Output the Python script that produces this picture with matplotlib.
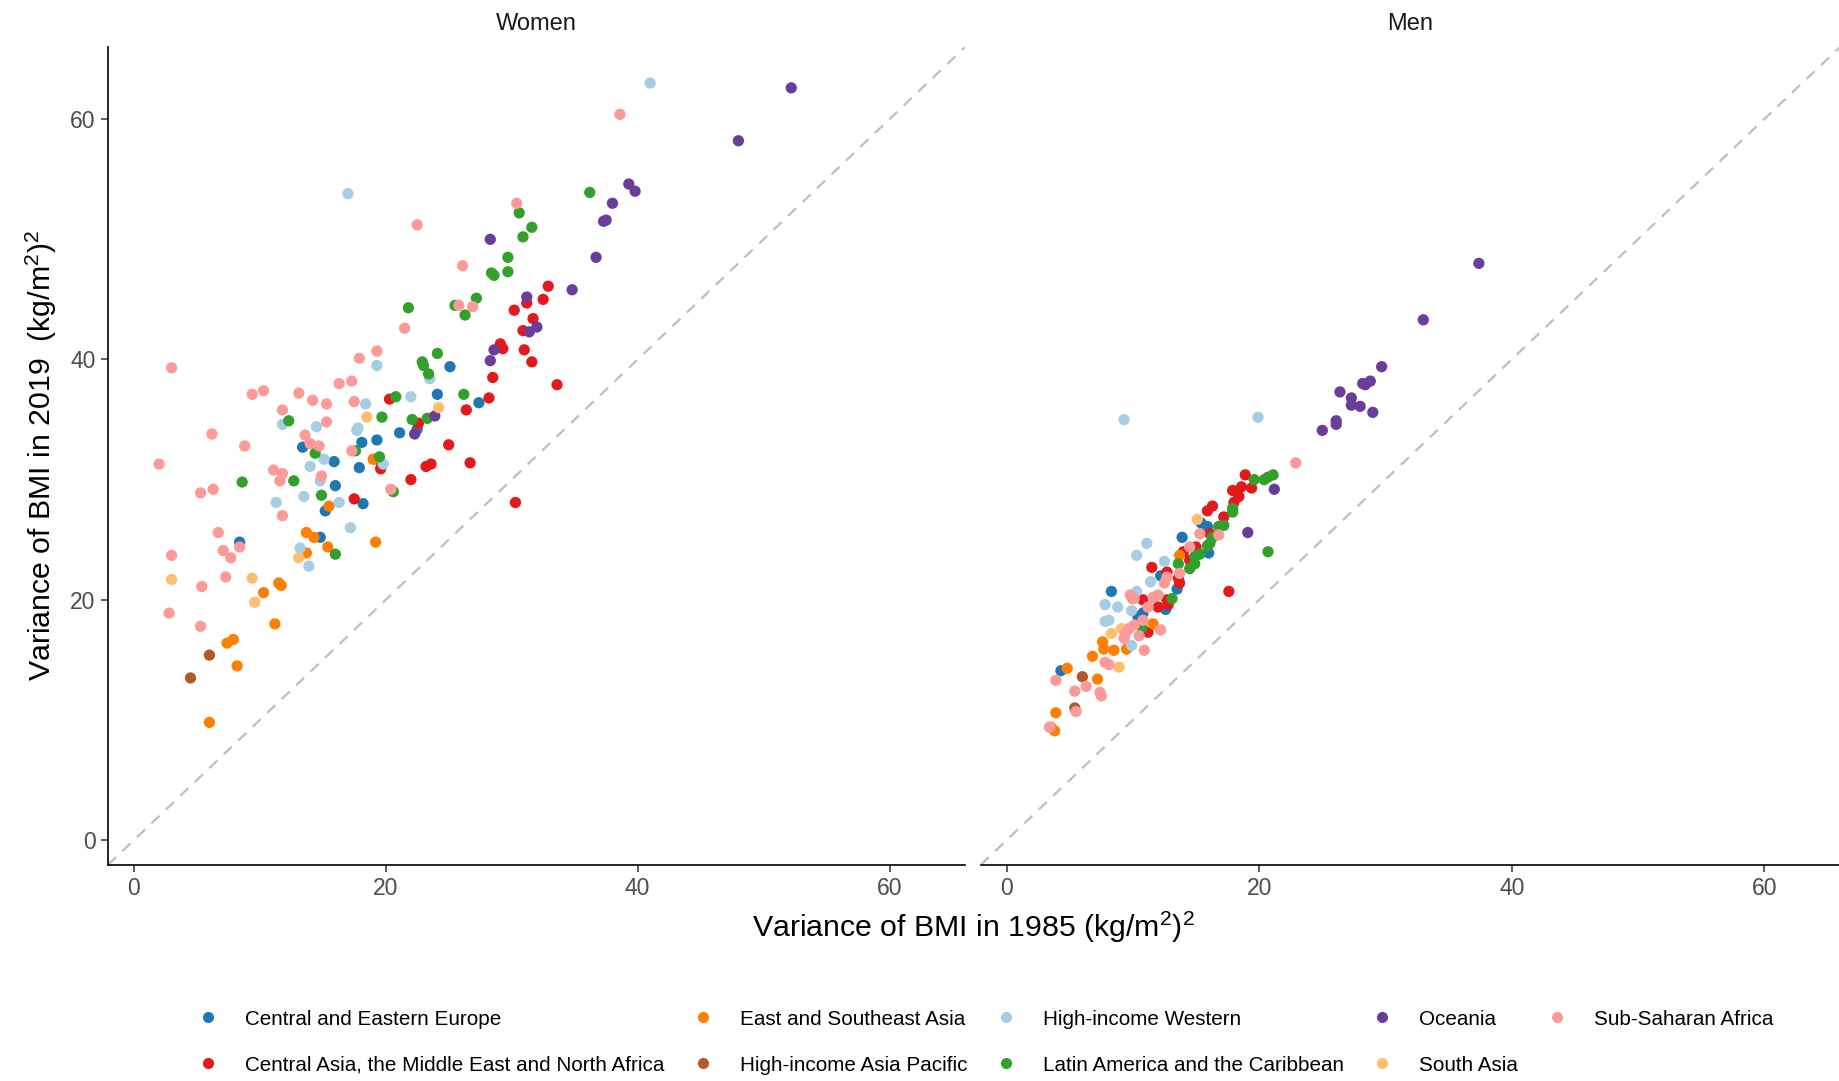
import matplotlib
matplotlib.use("Agg")
import matplotlib.pyplot as plt
from matplotlib.lines import Line2D

plt.rcParams['font.family'] = ['Liberation Sans', 'DejaVu Sans']
plt.rcParams['mathtext.fontset'] = 'custom'
plt.rcParams['mathtext.rm'] = 'Liberation Sans'
plt.rcParams['mathtext.it'] = 'Liberation Sans:italic'

# regions (legend order) and Paired-palette colours
regions = ['Central and Eastern Europe', 'Central Asia, the Middle East and North Africa',
           'East and Southeast Asia', 'High-income Asia Pacific', 'High-income Western',
           'Latin America and the Caribbean', 'Oceania', 'South Asia', 'Sub-Saharan Africa']
colors = ['#1F78B4', '#E31A1C', '#FF7F00', '#B15928', '#A6CEE3',
          '#33A02C', '#6A3D9A', '#FDBF6F', '#FB9A99']

# Women: (variance 1985, variance 2019)
w_cee = [(25.1, 39.4), (24.1, 37.1), (27.4, 36.4), (21.1, 33.9), (18.1, 33.1), (19.3, 33.3),
         (13.4, 32.7), (15.9, 31.5), (17.9, 31.0), (16.0, 29.5), (15.2, 27.4), (18.2, 28.0),
         (14.8, 25.2), (8.4, 24.8), (22.5, 34.2)]
w_cam = [(32.9, 46.1), (32.5, 45.0), (31.2, 44.7), (30.2, 44.1), (31.7, 43.4), (30.9, 42.4),
         (29.1, 41.3), (29.3, 40.9), (31.0, 40.8), (31.6, 39.8), (28.5, 38.5), (33.6, 37.9),
         (28.2, 36.8), (26.4, 35.8), (26.7, 31.4), (30.3, 28.1), (25.0, 32.9), (20.3, 36.7),
         (22.6, 34.7), (19.3, 31.7), (19.6, 30.9), (23.2, 31.1), (23.6, 31.3), (22.0, 30.0),
         (17.5, 28.4)]
w_esa = [(19.0, 31.7), (15.5, 27.8), (13.7, 25.6), (14.3, 25.2), (15.4, 24.4), (19.2, 24.8),
         (13.7, 23.9), (11.5, 21.4), (11.7, 21.2), (10.3, 20.6), (11.2, 18.0), (7.4, 16.4),
         (7.9, 16.7), (8.2, 14.5), (6.0, 9.8)]
w_hap = [(6.0, 15.4), (4.5, 13.5)]
w_hiw = [(41.0, 63.0), (17.0, 53.8), (19.3, 39.5), (23.5, 38.4), (18.4, 36.3), (22.0, 36.9),
         (11.8, 34.6), (14.5, 34.4), (17.8, 34.3), (17.7, 34.1), (15.1, 31.7), (19.8, 31.3),
         (14.0, 31.1), (14.8, 29.9), (11.3, 28.1), (13.5, 28.6), (16.3, 28.1), (17.2, 26.0),
         (13.2, 24.3), (13.9, 22.8)]
w_lac = [(36.2, 53.9), (30.6, 52.2), (31.6, 51.0), (30.9, 50.2), (29.7, 48.5), (28.4, 47.2),
         (28.6, 47.0), (29.7, 47.3), (27.2, 45.1), (25.5, 44.5), (26.3, 43.7), (26.2, 37.1),
         (21.8, 44.3), (22.9, 39.8), (23.0, 39.5), (24.1, 40.5), (23.4, 38.8), (20.8, 36.9),
         (12.3, 34.9), (19.7, 35.2), (22.1, 35.0), (23.3, 35.1), (14.4, 32.2), (17.6, 32.4),
         (19.5, 31.9), (12.7, 29.9), (8.6, 29.8), (20.6, 29.0), (14.9, 28.7), (16.0, 23.8)]
w_oce = [(52.2, 62.6), (48.0, 58.2), (39.3, 54.6), (39.8, 54.0), (38.0, 53.0), (37.3, 51.5),
         (37.5, 51.6), (28.3, 50.0), (36.7, 48.5), (34.8, 45.8), (31.2, 45.2), (31.4, 42.3),
         (32.0, 42.7), (28.6, 40.8), (28.3, 39.9), (22.3, 33.8), (23.9, 35.3)]
w_sas = [(24.2, 36.0), (18.5, 35.2), (13.1, 23.5), (3.0, 21.7), (9.4, 21.8), (9.6, 19.8)]
w_ssa = [(38.6, 60.4), (30.4, 53.0), (22.5, 51.2), (26.1, 47.8), (25.8, 44.5), (26.9, 44.4),
         (21.5, 42.6), (19.3, 40.7), (17.9, 40.1), (3.0, 39.3), (16.3, 38.0), (17.3, 38.2),
         (9.4, 37.1), (10.3, 37.4), (13.1, 37.2), (14.2, 36.6), (15.3, 36.3), (17.5, 36.5),
         (11.8, 35.8), (15.3, 34.8), (6.2, 33.8), (8.8, 32.8), (13.6, 33.7), (14.0, 33.0),
         (14.7, 32.8), (17.3, 32.4), (2.0, 31.3), (11.1, 30.8), (11.8, 30.5), (11.6, 29.9),
         (14.9, 30.3), (5.3, 28.9), (6.3, 29.2), (20.4, 29.2), (11.8, 27.0), (6.7, 25.6),
         (8.4, 24.4), (7.1, 24.1), (7.7, 23.5), (3.0, 23.7), (7.3, 21.9), (5.4, 21.1),
         (2.8, 18.9), (5.3, 17.8)]

# Men
m_cee = [(15.4, 26.4), (15.9, 26.1), (13.9, 25.2), (16.0, 23.9), (12.2, 22.0), (13.5, 20.9),
         (8.3, 20.7), (12.6, 19.2), (10.4, 18.6), (10.8, 18.9), (4.3, 14.1)]
m_cam = [(18.9, 30.4), (18.6, 29.4), (19.4, 29.3), (17.9, 29.1), (18.4, 28.6), (18.0, 28.1),
         (16.3, 27.8), (15.9, 27.4), (17.2, 26.9), (16.1, 25.5), (15.0, 24.4), (14.0, 24.0),
         (14.5, 23.3), (11.5, 22.7), (12.7, 22.3), (13.6, 21.8), (13.7, 21.4), (10.8, 20.0),
         (12.7, 20.0), (12.8, 19.6), (12.0, 19.4), (17.6, 20.7), (11.2, 17.3)]
m_esa = [(13.7, 23.7), (10.0, 20.1), (11.6, 18.0), (7.6, 16.5), (7.7, 15.9), (8.5, 15.8),
         (6.8, 15.3), (9.5, 15.9), (4.8, 14.3), (7.2, 13.4), (3.9, 10.6), (3.5, 9.4), (3.8, 9.1)]
m_hap = [(6.0, 13.6), (5.4, 11.0)]
m_hiw = [(9.3, 35.0), (19.9, 35.2), (11.1, 24.7), (10.3, 23.7), (12.5, 23.2), (11.4, 21.5),
         (10.3, 20.7), (7.8, 19.6), (8.8, 19.4), (9.9, 19.1), (7.8, 18.2), (8.1, 18.3), (9.9, 16.2)]
m_lac = [(19.6, 30.0), (20.4, 30.0), (20.7, 30.2), (21.1, 30.4), (17.9, 27.6), (17.9, 27.3),
         (17.2, 26.2), (16.8, 26.1), (16.3, 25.2), (16.1, 24.7), (15.9, 24.5), (20.7, 24.0),
         (15.3, 23.8), (14.9, 23.6), (14.9, 23.0), (13.6, 23.0), (14.5, 22.6), (13.1, 20.1),
         (10.7, 17.7)]
m_oce = [(37.4, 48.0), (33.0, 43.3), (29.7, 39.4), (28.2, 38.0), (28.4, 37.9), (28.8, 38.2),
         (26.4, 37.3), (27.3, 36.8), (27.3, 36.2), (28.0, 36.1), (29.0, 35.6), (26.1, 34.9),
         (26.1, 34.6), (25.0, 34.1), (21.2, 29.2), (19.1, 25.6)]
m_sas = [(15.1, 26.7), (8.3, 17.2), (9.1, 17.6), (8.9, 14.4)]
m_ssa = [(22.9, 31.4), (15.3, 25.5), (16.8, 25.4), (14.5, 24.4), (13.7, 22.2), (12.7, 21.9),
         (12.5, 21.4), (9.8, 20.4), (10.1, 20.1), (11.6, 20.2), (11.2, 19.4), (12.0, 20.4),
         (10.8, 18.3), (10.1, 17.9), (9.7, 17.6), (9.4, 17.2), (9.3, 16.8), (12.2, 17.5),
         (10.5, 17.0), (10.9, 15.8), (7.8, 14.8), (8.1, 14.6), (3.9, 13.3), (6.3, 12.8),
         (5.4, 12.4), (7.4, 12.3), (7.5, 12.0), (5.5, 10.7), (3.4, 9.4)]

women = [w_cee, w_cam, w_esa, w_hap, w_hiw, w_lac, w_oce, w_sas, w_ssa]
men = [m_cee, m_cam, m_esa, m_hap, m_hiw, m_lac, m_oce, m_sas, m_ssa]

fig = plt.figure(figsize=(18.4, 10.81), dpi=100)
ax_w = fig.add_axes([0.0587, 0.2, 0.4658, 0.7565])
ax_m = fig.add_axes([0.533, 0.2, 0.467, 0.7565])

for ax, groups, title in [(ax_w, women, 'Women'), (ax_m, men, 'Men')]:
    ax.axline((0, 0), slope=1, color='#BEBEBE', ls=(0, (5, 4)), lw=1.6, zorder=1)
    for pts, col in zip(groups, colors):
        xs = [p[0] for p in pts]
        ys = [p[1] for p in pts]
        ax.scatter(xs, ys, s=66, color=col, edgecolors='none', zorder=2)
    ax.set_xlim(-2.05, 66)
    ax.set_ylim(-2.05, 66)
    ax.set_xticks([0, 20, 40, 60])
    ax.set_yticks([0, 20, 40, 60])
    ax.spines['top'].set_visible(False)
    ax.spines['right'].set_visible(False)
    ax.spines['bottom'].set_linewidth(1.2)
    ax.spines['left'].set_linewidth(1.2)
    ax.tick_params(labelsize=16.5, labelcolor='#4D4D4D', color='#333333',
                   length=5, width=1.1, pad=4)
    ax.set_title(title, fontsize=17, color='#1A1A1A', pad=12)

ax_m.spines['left'].set_visible(False)
ax_m.tick_params(axis='y', left=False, labelleft=False)

ax_w.set_ylabel(r'Variance of BMI in 2019  $(\mathrm{kg/m}^2)^2$', fontsize=21.8, labelpad=8)
fig.text(0.529, 0.142, r'Variance of BMI in 1985 $(\mathrm{kg/m}^2)^2$', fontsize=21.8,
         ha='center', va='center')

handles = [Line2D([], [], marker='o', ls='none', color=c, markersize=7) for c in colors]
fig.legend(handles, regions, loc='center', bbox_to_anchor=(0.5355, 0.036), ncol=5,
           frameon=False, fontsize=14.9, handlelength=1, handletextpad=1.3,
           columnspacing=1.35, labelspacing=1.3)

fig.savefig('out.png', dpi=100)
